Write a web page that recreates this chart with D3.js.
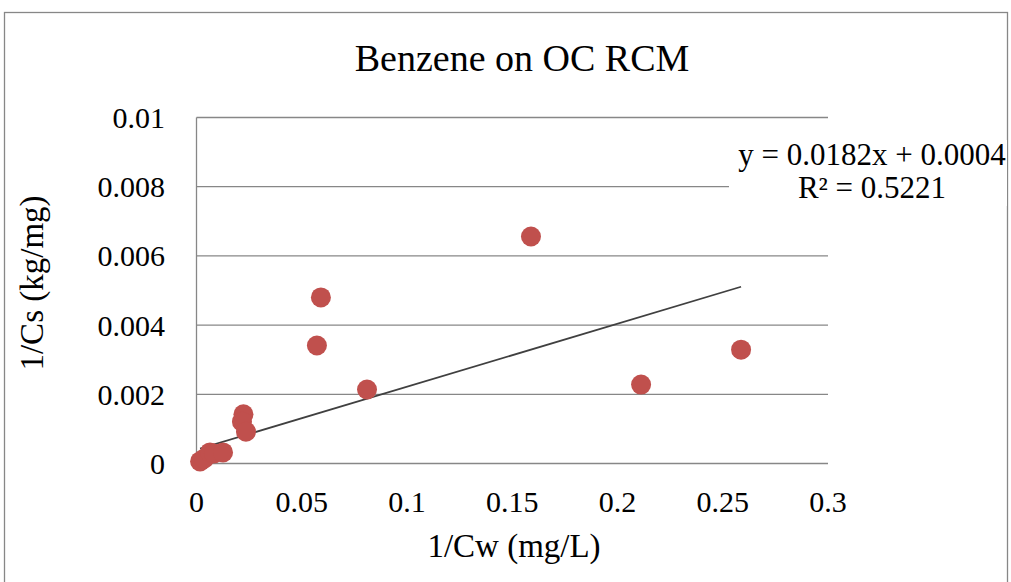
<!DOCTYPE html>
<html><head><meta charset="utf-8">
<script src="https://cdn.jsdelivr.net/npm/d3@7"></script>
<style>
html,body{margin:0;padding:0;background:#fff;}
text{font-family:"Liberation Serif","Times New Roman",serif;fill:#000;}
</style></head>
<body><svg id="chart" width="1011" height="582"></svg>
<script>
// data
const xValues = [0.0017,0.0036,0.0064,0.0083,0.0126,0.0223,0.0216,0.0235,0.0572,0.0591,0.0810,0.1589,0.2112,0.2587];
const yValues = [0.00006,0.00014,0.00032,0.00029,0.00032,0.00142,0.00121,0.00092,0.00341,0.00480,0.00214,0.00656,0.00228,0.00329];
const xTicks = [0,0.05,0.1,0.15,0.2,0.25,0.3];
const yTicks = [0,0.002,0.004,0.006,0.008,0.01];
const trendSlope = 0.0182;
const trendIntercept = 0.0004;
const equationLines = ["y = 0.0182x + 0.0004","R² = 0.5221"];
const titleText = "Benzene on OC RCM";
const xTitle = "1/Cw (mg/L)";
const yTitle = "1/Cs (kg/mg)";

(function(){
const svg = d3.select("#chart");
const pL = 196.5, pR = 828, pT = 117.5, pB = 463.5;
const x = d3.scaleLinear().domain([0,0.3]).range([pL,pR]);
const y = d3.scaleLinear().domain([0,0.01]).range([pB,pT]);
const grid = "#878787";

// outer chart border
svg.append("rect").attr("x",4.5).attr("y",12.5).attr("width",1003).attr("height",620)
  .attr("fill","none").attr("stroke",grid).attr("stroke-width",1.3);

// horizontal gridlines
svg.append("g").selectAll("line").data(yTicks).join("line")
  .attr("x1",pL).attr("x2",pR).attr("y1",d=>y(d)).attr("y2",d=>y(d))
  .attr("stroke",grid).attr("stroke-width",1.3);
// y axis line
svg.append("line").attr("x1",pL).attr("x2",pL).attr("y1",pT).attr("y2",pB)
  .attr("stroke",grid).attr("stroke-width",1.3);

// y tick labels
const fmt = d => String(+d.toFixed(4));
svg.append("g").selectAll("text").data(yTicks).join("text")
  .attr("x",165).attr("y",d=>y(d)).attr("dy","0.35em").attr("text-anchor","end")
  .style("font-size","30px").text(fmt);
// x tick labels
svg.append("g").selectAll("text").data(xTicks).join("text")
  .attr("x",d=>x(d)).attr("y",512).attr("text-anchor","middle")
  .style("font-size","30px").text(fmt);

// trendline
const xMin = d3.min(xValues), xMax = d3.max(xValues);
svg.append("line")
  .attr("x1",x(xMin)).attr("y1",y(trendSlope*xMin+trendIntercept))
  .attr("x2",x(xMax)).attr("y2",y(trendSlope*xMax+trendIntercept))
  .attr("stroke","#404040").attr("stroke-width",1.8);

// points
svg.append("g").selectAll("circle").data(xValues.map((v,i)=>[v,yValues[i]])).join("circle")
  .attr("cx",d=>x(d[0])).attr("cy",d=>y(d[1])).attr("r",10).attr("fill","#C0504D");

// equation label
svg.append("rect").attr("x",729).attr("y",140).attr("width",278).attr("height",66).attr("fill","#fff");
svg.append("g").selectAll("text").data(equationLines).join("text")
  .attr("x",872).attr("y",(d,i)=>165+i*33).attr("text-anchor","middle")
  .style("font-size","31px").text(d=>d);

// titles
svg.append("text").attr("x",522).attr("y",71).attr("text-anchor","middle")
  .style("font-size","38px").text(titleText);
svg.append("text").attr("x",514).attr("y",557).attr("text-anchor","middle")
  .style("font-size","33px").text(xTitle);
svg.append("text").attr("transform","translate(43,283) rotate(-90)").attr("text-anchor","middle")
  .style("font-size","33px").text(yTitle);
})();
</script></body></html>
